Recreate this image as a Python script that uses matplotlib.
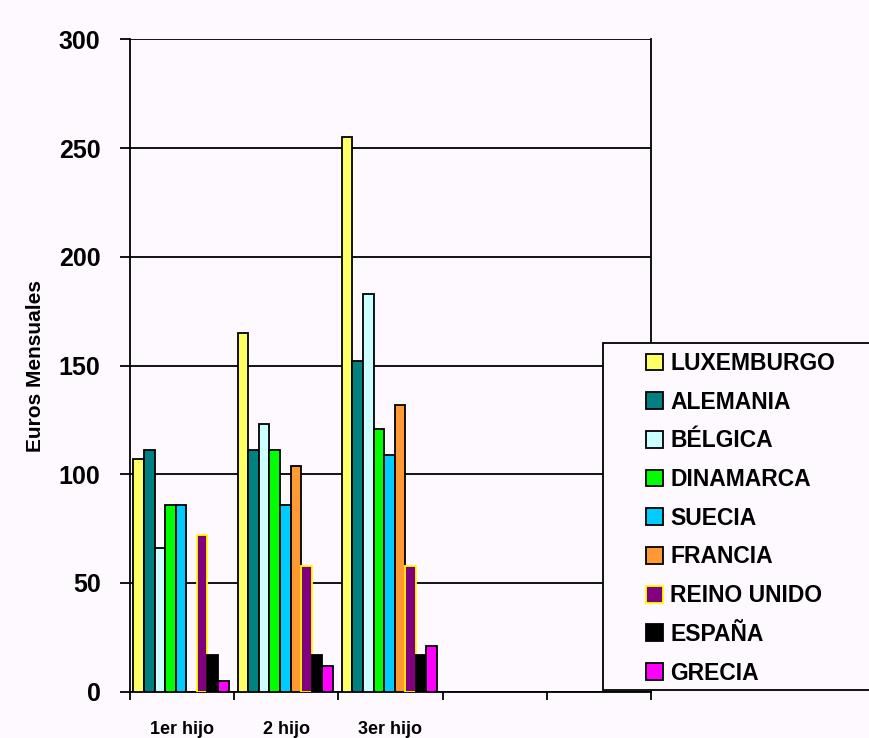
import matplotlib
matplotlib.use("Agg")
import matplotlib.pyplot as plt
from matplotlib.patches import Rectangle, Patch
import numpy as np

nan = np.nan
categories = ["1er hijo", "2 hijo", "3er hijo", "", ""]
countries = ["LUXEMBURGO", "ALEMANIA", "BÉLGICA", "DINAMARCA", "SUECIA",
             "FRANCIA", "REINO UNIDO", "ESPAÑA", "GRECIA"]
luxemburgo = [107, 165, 255, nan, nan]
alemania = [111, 111, 152, nan, nan]
belgica = [66, 123, 183, nan, nan]
dinamarca = [86, 111, 121, nan, nan]
suecia = [86, 86, 109, nan, nan]
francia = [nan, 104, 132, nan, nan]
reino_unido = [72, 58, 58, nan, nan]
espana = [17, 17, 17, nan, nan]
grecia = [5, 12, 21, nan, nan]
series = [luxemburgo, alemania, belgica, dinamarca, suecia,
          francia, reino_unido, espana, grecia]
yticks = [0, 50, 100, 150, 200, 250, 300]

colors = ["#FFFF66", "#008080", "#CCFFFF", "#00FF00", "#00CCFF",
          "#FF9933", "#800080", "#000000", "#FF00FF"]
edges = ["black"] * 6 + ["#FFFF00"] + ["black"] * 2

bg = "#FEF9FE"
plt.rcParams['font.family'] = ['Liberation Sans', 'DejaVu Sans']
fig = plt.figure(figsize=(8.7, 7.38), dpi=100, facecolor=bg)
W, H = 870, 738
ax = fig.add_axes([130 / W, 1 - 691.7 / H, (651 - 130) / W, (691.7 - 39.3) / H])
ax.set_facecolor(bg)

bw = 0.1015
start = 0.033
x = np.arange(len(categories))
for j, vals in enumerate(series):
    ax.bar(x + start + j * bw, vals, width=bw, align='edge', color=colors[j],
           edgecolor=edges[j], linewidth=1.3, zorder=3)

ax.set_xlim(0, len(categories))
ax.set_ylim(0, 300)
ax.set_yticks(yticks)
ax.set_yticklabels([str(v) for v in yticks], fontsize=18, fontweight='bold')
ax.yaxis.grid(True, color='black', linewidth=1.3, zorder=0)
ax.set_axisbelow(True)
ax.set_xticks(np.arange(len(categories) + 1))
ax.set_xticklabels([])
ax.set_xticks(x + 0.5, minor=True)
ax.set_xticklabels(categories, minor=True, fontsize=13, fontweight='bold')
ax.tick_params(axis='x', which='minor', length=0, pad=21)
ax.tick_params(axis='x', which='major', direction='out', length=5.8, width=1.3)
ax.tick_params(axis='y', direction='out', length=7.2, width=1.3, pad=14)
for s in ['left', 'bottom', 'right', 'top']:
    ax.spines[s].set_linewidth(1.3)
    ax.spines[s].set_color('black')
ax.spines['top'].set_visible(False)
ax.set_ylabel("Euros Mensuales", fontsize=15, fontweight='bold')
ax.yaxis.set_label_coords(-0.163, 0.5)

# legend box
rect = Rectangle((603 / W, 1 - 690 / H), 280 / W, (690 - 343) / H,
                 transform=fig.transFigure, facecolor=bg, edgecolor='black',
                 linewidth=1.3, zorder=5)
fig.patches.append(rect)
handles = [Patch(facecolor=colors[j], edgecolor=edges[j], linewidth=1.3)
           for j in range(len(countries))]
leg = fig.legend(handles, countries, loc='upper left',
                 bbox_to_anchor=(646 / W, 1 - 352 / H), frameon=False,
                 prop={'size': 16.5, 'weight': 'bold'}, handlelength=0.75,
                 handleheight=0.75, handletextpad=0.3, labelspacing=0.685,
                 borderpad=0, borderaxespad=0)
leg.set_zorder(6)

fig.savefig("out.png", dpi=100, facecolor=bg)
